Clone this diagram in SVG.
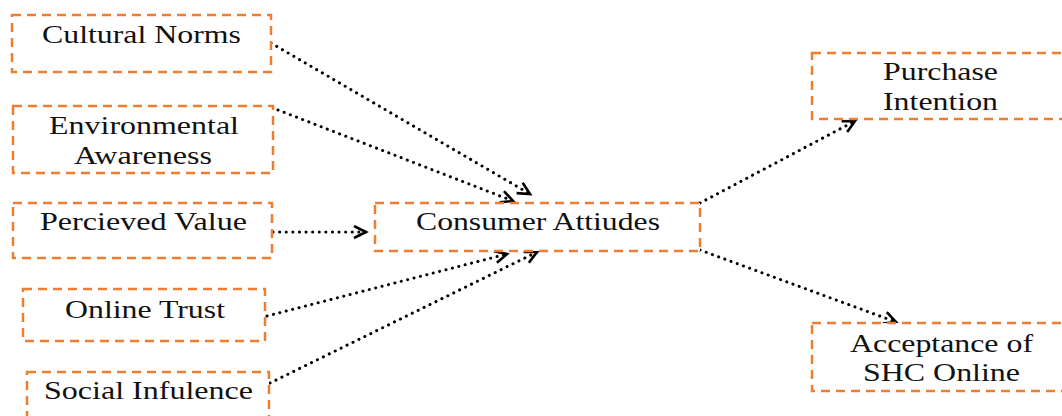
<svg xmlns="http://www.w3.org/2000/svg" width="1062" height="416" viewBox="0 0 1062 416">
<style>
.box{fill:#fff;stroke:#ED7D31;stroke-width:2.5;stroke-dasharray:9 6}
.lbl{font-family:"Liberation Serif","Times New Roman",serif;font-size:26px;fill:#111;text-anchor:start}
.con{fill:none;stroke:#000;stroke-width:3;stroke-linecap:round;stroke-dasharray:0.1 6.5}
</style>
<defs>
<marker id="ah" markerUnits="userSpaceOnUse" markerWidth="16" markerHeight="16" refX="13" refY="7" orient="auto">
<path d="M1,1 L13,7 L1,13" fill="none" stroke="#000" stroke-width="2.6" stroke-dasharray="none"/>
</marker>
</defs>
<rect width="1062" height="416" fill="#fff"/>
<g id="connectors">
<line class="con" x1="271" y1="43" x2="530" y2="194" marker-end="url(#ah)"/>
<line class="con" x1="278" y1="110" x2="513" y2="201" marker-end="url(#ah)"/>
<line class="con" x1="273" y1="232" x2="366" y2="232" marker-end="url(#ah)"/>
<line class="con" x1="267" y1="316" x2="507" y2="254" marker-end="url(#ah)"/>
<line class="con" x1="270" y1="383" x2="537" y2="252" marker-end="url(#ah)"/>
<line class="con" x1="700" y1="203" x2="855" y2="121" marker-end="url(#ah)"/>
<line class="con" x1="700" y1="250" x2="896" y2="322" marker-end="url(#ah)"/>
</g>
<g id="cultural-norms">
<rect class="box" x="12" y="15" width="259" height="57"/>
<text class="lbl" x="42" y="43" textLength="199" lengthAdjust="spacingAndGlyphs">Cultural Norms</text>
</g>
<g id="environmental-awareness">
<rect class="box" x="13" y="106" width="260" height="67"/>
<text class="lbl" x="49" y="134" textLength="190" lengthAdjust="spacingAndGlyphs">Environmental</text>
<text class="lbl" x="74" y="164" textLength="138" lengthAdjust="spacingAndGlyphs">Awareness</text>
</g>
<g id="perceived-value">
<rect class="box" x="13" y="203" width="259" height="55"/>
<text class="lbl" x="40" y="230" textLength="207" lengthAdjust="spacingAndGlyphs">Percieved Value</text>
</g>
<g id="online-trust">
<rect class="box" x="23" y="289" width="242" height="52"/>
<text class="lbl" x="65" y="318" textLength="160" lengthAdjust="spacingAndGlyphs">Online Trust</text>
</g>
<g id="social-influence">
<rect class="box" x="27" y="372" width="242" height="52"/>
<text class="lbl" x="44" y="399" textLength="209" lengthAdjust="spacingAndGlyphs">Social Infulence</text>
</g>
<g id="consumer-attitudes">
<rect class="box" x="375" y="203" width="325" height="48"/>
<text class="lbl" x="416" y="230" textLength="244" lengthAdjust="spacingAndGlyphs">Consumer Attiudes</text>
</g>
<g id="purchase-intention">
<rect class="box" x="812" y="53" width="260" height="66"/>
<text class="lbl" x="883" y="80" textLength="115" lengthAdjust="spacingAndGlyphs">Purchase</text>
<text class="lbl" x="883" y="110" textLength="115" lengthAdjust="spacingAndGlyphs">Intention</text>
</g>
<g id="acceptance-shc-online">
<rect class="box" x="812" y="323" width="260" height="68"/>
<text class="lbl" x="850" y="352" textLength="183" lengthAdjust="spacingAndGlyphs">Acceptance of</text>
<text class="lbl" x="863" y="381" textLength="157" lengthAdjust="spacingAndGlyphs">SHC Online</text>
</g>
</svg>
